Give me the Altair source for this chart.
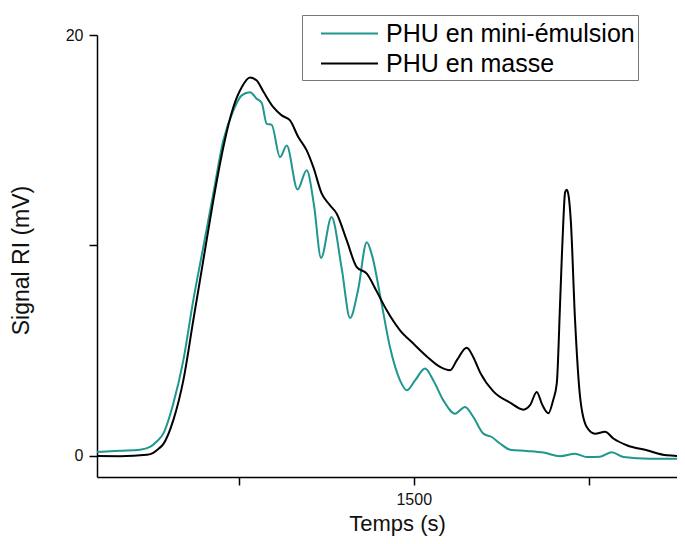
import altair as alt
import pandas as pd

series_names = ["PHU en mini-émulsion", "PHU en masse"]
series_colors = ["#1f968e", "#000000"]

mini_t = [1047.6, 1080.4, 1109.0, 1123.3, 1133.3, 1142.3, 1156.6, 1170.9, 1185.1, 1199.4,
          1213.7, 1228.0, 1242.3, 1254.3, 1266.1, 1275.7, 1282.9, 1290.0, 1297.1, 1309.0,
          1318.6, 1334.0, 1347.1, 1357.6, 1367.6, 1382.6, 1397.1, 1409.0, 1420.4, 1432.9,
          1440.4, 1454.3, 1466.1, 1480.4, 1490.0, 1501.9, 1516.1, 1528.0, 1542.3, 1559.0,
          1573.3, 1585.1, 1599.4, 1611.4, 1623.3, 1637.6, 1661.4, 1685.1, 1709.0, 1730.4,
          1747.1, 1766.1, 1782.9, 1799.4, 1837.6, 1887.6]
mini_v = [0.19, 0.25, 0.30, 0.43, 0.70, 1.06, 2.49, 4.54, 7.39, 9.92,
          12.46, 14.99, 16.41, 17.13, 17.28, 16.97, 16.77, 15.78, 15.73, 14.20,
          14.75, 12.66, 13.57, 11.90, 9.41, 11.35, 8.91, 6.56, 7.87, 10.15,
          9.53, 7.20, 5.16, 3.59, 3.12, 3.59, 4.15, 3.59, 2.64, 2.01,
          2.33, 1.85, 1.06, 0.90, 0.59, 0.30, 0.24, 0.16, -0.01, 0.10,
          -0.05, -0.04, 0.18, -0.05, -0.13, -0.13]

masse_t = [1047.6, 1080.4, 1119.0, 1128.0, 1134.7, 1142.3, 1156.6, 1170.9, 1185.1, 1199.4,
           1213.7, 1228.0, 1242.3, 1254.3, 1266.1, 1275.7, 1285.1, 1299.4, 1311.4, 1323.3,
           1335.1, 1347.1, 1356.6, 1368.6, 1380.4, 1390.0, 1404.3, 1418.6, 1432.9, 1447.1,
           1461.4, 1480.4, 1499.4, 1518.6, 1537.6, 1551.9, 1561.4, 1575.7, 1585.1, 1594.7,
           1613.7, 1637.6, 1656.6, 1666.1, 1675.7, 1683.3, 1692.3, 1699.0, 1704.3, 1709.0,
           1711.3, 1713.7, 1716.1, 1718.6, 1721.1, 1724.3, 1730.4, 1737.6, 1747.1, 1759.0,
           1773.3, 1785.1, 1804.3, 1832.9, 1861.4, 1887.6]
masse_v = [0.00, -0.01, 0.06, 0.15, 0.32, 0.56, 1.70, 3.59, 6.44, 9.29,
           12.14, 14.67, 16.57, 17.52, 17.98, 17.84, 17.32, 16.57, 16.18, 15.94,
           15.15, 14.52, 13.72, 12.46, 11.91, 11.51, 10.24, 8.97, 8.66, 7.82,
           6.92, 5.97, 5.34, 4.73, 4.23, 4.07, 4.54, 5.14, 4.69, 3.97,
           3.07, 2.53, 2.20, 2.41, 3.04, 2.45, 2.03, 2.64, 3.45, 7.25,
           9.29, 11.19, 12.51, 12.65, 12.38, 11.19, 6.44, 2.80, 1.38, 1.06,
           1.15, 0.83, 0.51, 0.27, 0.03, -0.01]

x_ticks = [1250, 1500, 1750]
y_ticks = [0, 10, 20]
x_domain = [1047.6, 1876]
y_domain = [-1, 20]

rows = []
for t, v in zip(mini_t, mini_v):
    rows.append({"t": t, "v": v, "serie": series_names[0]})
for t, v in zip(masse_t, masse_v):
    rows.append({"t": t, "v": v, "serie": series_names[1]})
df = pd.DataFrame(rows)

FONT = "Liberation Sans"

chart = alt.Chart(df).mark_line(clip=True, strokeWidth=2, interpolate="monotone").encode(
    x=alt.X("t:Q",
            scale=alt.Scale(domain=x_domain, nice=False, zero=False),
            axis=alt.Axis(title="Temps (s)", values=x_ticks,
                          labelExpr="datum.value == 1500 ? '1500' : ''",
                          grid=False, titleX=300, titleY=53, titleFontSize=22,
                          titleBaseline="alphabetic", titleAlign="center")),
    y=alt.Y("v:Q",
            scale=alt.Scale(domain=y_domain, nice=False, zero=False),
            axis=alt.Axis(title="Signal RI (mV)", values=y_ticks,
                          labelExpr="datum.value == 10 ? '' : datum.label",
                          grid=False, titleX=-69, titleY=225, titleAngle=270,
                          titleFontSize=23,
                          titleBaseline="alphabetic", titleAlign="center")),
    color=alt.Color("serie:N",
                    scale=alt.Scale(domain=series_names, range=series_colors),
                    legend=alt.Legend(title=None, orient="none", legendX=205, legendY=-20,
                                      symbolType="M-2,0H2", symbolSize=812,
                                      symbolStrokeWidth=2, symbolOffset=29,
                                      labelFontSize=25, labelFont=FONT, labelColor="#000",
                                      labelLimit=500, labelOffset=21, rowPadding=1,
                                      padding=3, strokeColor="#777777",
                                      fillColor="#ffffff")),
).properties(
    width=580, height=442,
    autosize=alt.AutoSizeParams(type="none"),
    padding={"left": 89, "top": 27, "right": 0, "bottom": 59},
).configure_view(stroke=None).configure_axis(
    domainColor="#000", domainWidth=1.5, tickColor="#000", tickWidth=1.5, tickSize=8,
    labelFont=FONT, labelFontSize=16, labelColor="#111", labelPadding=6,
    titleFont=FONT, titleFontWeight="normal", titleColor="#111",
)

chart.save("out.html", embed_options={"renderer": "svg", "actions": False})
